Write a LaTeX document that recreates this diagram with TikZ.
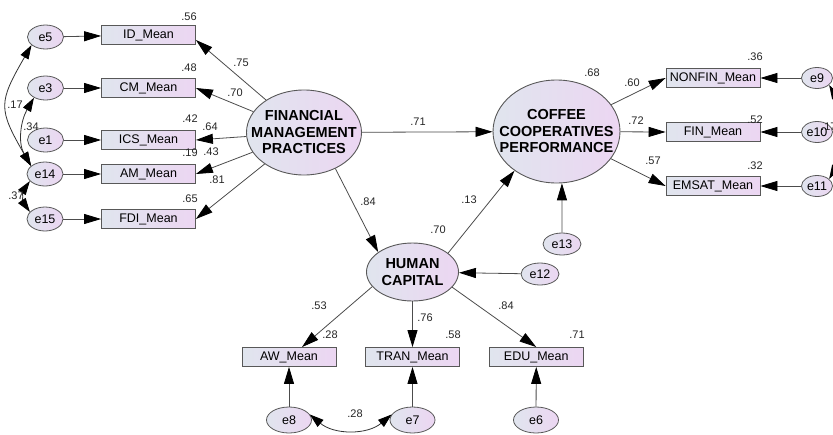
\documentclass[tikz,border=0pt]{standalone}
\usepackage{fontspec}
\setmainfont{Liberation Sans}
\usetikzlibrary{shapes.geometric,arrows.meta}
\definecolor{shadeL}{RGB}{224,229,238}
\definecolor{shadeR}{RGB}{236,214,242}
\definecolor{rimgray}{RGB}{88,88,88}
\begin{document}
\begin{tikzpicture}[x=1pt,y=-1pt]

    \tikzset{
      latent/.style={
        ellipse,
        draw=rimgray,
        line width=0.9pt,
        left color=shadeL,
        right color=shadeR,
        inner sep=0pt,
      },
      latenttext/.style={
        align=center,
        inner sep=0pt,
        font=\fontsize{14.5}{16.5}\selectfont\bfseries,
      },
      errnode/.style={
        ellipse,
        draw=rimgray,
        line width=0.8pt,
        left color=shadeL,
        right color=shadeR,
        inner sep=0pt,
        font=\fontsize{12.5}{14}\selectfont,
      },
      obsbox/.style={
        rectangle,
        draw=rimgray,
        line width=0.8pt,
        left color=shadeL,
        right color=shadeR,
        inner sep=0pt,
        minimum width=94pt,
        minimum height=19pt,
        font=\fontsize{12.5}{14}\selectfont,
      },
      regarrow/.style={
        draw=black!70,
        line width=0.8pt,
        -{Triangle[length=17pt,width=10pt,color=black]},
      },
      covarrow/.style={
        draw=black!80,
        line width=0.8pt,
        {Triangle[length=14pt,width=9pt,color=black]}-{Triangle[length=14pt,width=9pt,color=black]},
      },
      coef/.style={
        inner sep=0pt,
        text=black!85,
        font=\fontsize{11}{13}\selectfont,
      },
    }
    \clip (0,0) rectangle (833,434);
    \fill[white] (0,0) rectangle (833,434);

    % latent variables
    \node[latent,minimum width=115pt,minimum height=85pt] (fmp) at (304,132.5) {};
    \node[latenttext] (fmptxt) at (fmp) {FINANCIAL\\MANAGEMENT\\PRACTICES};
    \node[latent,minimum width=127pt,minimum height=103pt] (ccp) at (556.5,131.5) {};
    \node[latenttext] (ccptxt) at (ccp) {COFFEE\\COOPERATIVES\\PERFORMANCE};
    \node[latent,minimum width=92pt,minimum height=58pt] (hc) at (412.5,272) {};
    \node[latenttext] (hctxt) at (hc) {HUMAN\\CAPITAL};

    % indicators
    \node[obsbox] (idm) at (148.5,35) {ID\_Mean};
    \node[obsbox] (cmm) at (148.5,88) {CM\_Mean};
    \node[obsbox] (icsm) at (148.5,140) {ICS\_Mean};
    \node[obsbox] (amm) at (148.5,174) {AM\_Mean};
    \node[obsbox] (fdim) at (148.5,219) {FDI\_Mean};
    \node[obsbox] (nonfin) at (713,78) {NONFIN\_Mean};
    \node[obsbox] (finm) at (713,132) {FIN\_Mean};
    \node[obsbox] (emsat) at (713,186) {EMSAT\_Mean};
    \node[obsbox] (awm) at (289,357) {AW\_Mean};
    \node[obsbox] (tranm) at (412.5,357) {TRAN\_Mean};
    \node[obsbox] (edum) at (536.3,357) {EDU\_Mean};

    % error terms
    \node[errnode,minimum width=36pt,minimum height=24pt] (e5) at (45.5,37) {e5};
    \node[errnode,minimum width=36pt,minimum height=24pt] (e3) at (45.5,88) {e3};
    \node[errnode,minimum width=36pt,minimum height=24pt] (e1) at (45.5,140) {e1};
    \node[errnode,minimum width=36pt,minimum height=24pt] (e14) at (45,174) {e14};
    \node[errnode,minimum width=36pt,minimum height=24pt] (e15) at (45,219) {e15};
    \node[errnode,minimum width=31pt,minimum height=21pt] (e9) at (817,78) {e9};
    \node[errnode,minimum width=31pt,minimum height=21pt] (e10) at (817,132) {e10};
    \node[errnode,minimum width=31pt,minimum height=21pt] (e11) at (817,186) {e11};
    \node[errnode,minimum width=38pt,minimum height=22pt] (e12) at (540,274) {e12};
    \node[errnode,minimum width=38pt,minimum height=22pt] (e13) at (562,244) {e13};
    \node[errnode,minimum width=45pt,minimum height=26pt] (e8) at (289,420) {e8};
    \node[errnode,minimum width=45pt,minimum height=26pt] (e7) at (412.5,420) {e7};
    \node[errnode,minimum width=45pt,minimum height=26pt] (e6) at (536,420) {e6};

    % paths
    \draw[regarrow] (fmp) -- ([yshift=-5pt]idm.east);
    \draw[regarrow] (fmp) -- (cmm.east);
    \draw[regarrow] (fmp) -- (icsm.east);
    \draw[regarrow] (fmp) -- (amm.east);
    \draw[regarrow] (fmp) -- (fdim.east);
    \draw[regarrow] (fmp) -- (ccp);
    \draw[regarrow] (fmp.-49) -- (hc.150);
    \draw[regarrow] (hc.28) -- (ccp.223);
    \draw[regarrow] (ccp) -- (nonfin.west);
    \draw[regarrow] (ccp) -- (finm.west);
    \draw[regarrow] (ccp) -- (emsat.west);
    \draw[regarrow] (hc.200) -- ([xshift=13pt]awm.north);
    \draw[regarrow] (hc) -- (tranm);
    \draw[regarrow] (hc.-21) -- (edum.north);
    \draw[regarrow] (e5) -- (idm);
    \draw[regarrow] (e3) -- (cmm);
    \draw[regarrow] (e1) -- (icsm);
    \draw[regarrow] (e14) -- (amm);
    \draw[regarrow] (e15) -- (fdim);
    \draw[regarrow] (e9) -- (nonfin);
    \draw[regarrow] (e10) -- (finm);
    \draw[regarrow] (e11) -- (emsat);
    \draw[regarrow] (e12) -- (hc);
    \draw[regarrow] (e13) -- (ccp.-84);
    \draw[regarrow] (e8) -- (awm);
    \draw[regarrow] (e7) -- (tranm);
    \draw[regarrow] (e6) -- (edum);

    % covariances
    \draw[covarrow] (e14.150) to[out=120,in=240,looseness=1.4] (e5.210);
    \draw[covarrow] (e3.220) to[out=240,in=120] (e14.150);
    \draw[covarrow] (e14.205) to[out=235,in=125] (e15.155);
    \draw[covarrow] (e9.-30) to[out=-60,in=60] (e11.30);
    \draw[covarrow] (e8.15) to[out=-40,in=-140] (e7.165);

    % estimates
    \node[coef] (r2id) at (189,17) {.56};
    \node[coef] (r2cm) at (189,68) {.48};
    \node[coef] (r2ics) at (190,119) {.42};
    \node[coef] (r2am) at (190,153) {.19};
    \node[coef] (r2fdi) at (190,199) {.65};
    \node[coef] (wid) at (241,63) {.75};
    \node[coef] (wcm) at (235,93) {.70};
    \node[coef] (wics) at (210,127) {.64};
    \node[coef] (wam) at (211,152) {.43};
    \node[coef] (wfdi) at (217,180) {.81};
    \node[coef] (wccp) at (418,122) {.71};
    \node[coef] (whc) at (368,202) {.84};
    \node[coef] (r2hc) at (438,230) {.70};
    \node[coef] (whcccp) at (469,200) {.13};
    \node[coef] (r2ccp) at (592,73) {.68};
    \node[coef] (wnonfin) at (632,83) {.60};
    \node[coef] (wfin) at (636,121) {.72};
    \node[coef] (wemsat) at (653,161) {.57};
    \node[coef] (r2nonfin) at (755,57) {.36};
    \node[coef] (r2fin) at (755,120) {.52};
    \node[coef] (r2emsat) at (755,166) {.32};
    \node[coef] (waw) at (319,306) {.53};
    \node[coef] (wtran) at (425,318) {.76};
    \node[coef] (wedu) at (506,306) {.84};
    \node[coef] (r2aw) at (330,335) {.28};
    \node[coef] (r2tran) at (453,335) {.58};
    \node[coef] (r2edu) at (577,335) {.71};
    \node[coef] (ce8e7) at (355,414) {.28};
    \node[coef] (ce3e14) at (15,105) {.17};
    \node[coef] (ce5e14) at (31,127) {.34};
    \node[coef] (ce14e15) at (16,196) {.37};
    \node[coef,anchor=west] (ce9e11) at (821,127) {.17};

\end{tikzpicture}
\end{document}
